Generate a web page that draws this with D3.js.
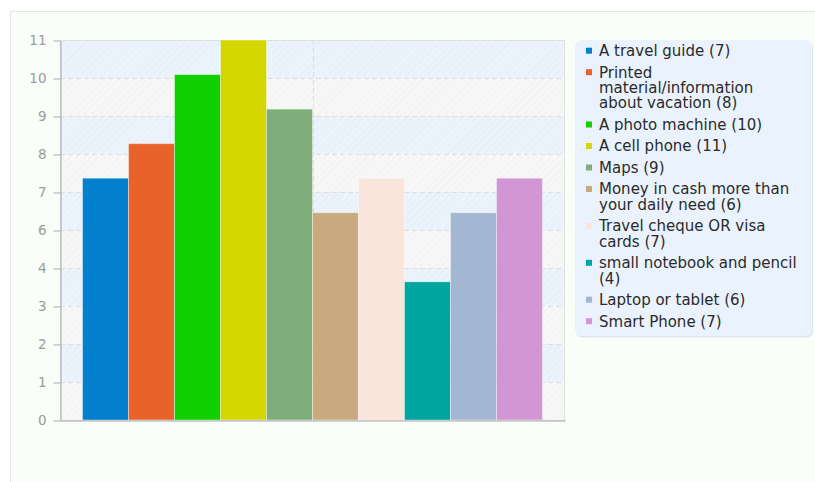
<!DOCTYPE html>
<html>
<head>
<meta charset="utf-8">
<script src="https://cdn.jsdelivr.net/npm/d3@7"></script>
<style>
  body { margin: 0; background: #ffffff; }
  svg { display: block; font-family: "DejaVu Sans", sans-serif; }
</style>
</head>
<body>
<svg id="chart" width="815" height="482"></svg>
<script>
// Survey answers: what people take with them on vacation
const categories = [
  "A travel guide",
  "Printed material/information about vacation",
  "A photo machine",
  "A cell phone",
  "Maps",
  "Money in cash more than your daily need",
  "Travel cheque OR visa cards",
  "small notebook and pencil",
  "Laptop or tablet",
  "Smart Phone"
];
const counts = [7, 8, 10, 11, 9, 6, 7, 4, 6, 7];
const colors = [
  "#0280cd", "#e8622b", "#11cf00", "#d3d600", "#80ae7a",
  "#c9aa7f", "#fae5dc", "#01a59f", "#a3b7d2", "#d396d4"
];
// y axis: ten equal steps up to the maximum, labels rounded
const yTickValues = [0, 1.1, 2.2, 3.3, 4.4, 5.5, 6.6, 7.7, 8.8, 9.9, 11];
const yTickLabels = ["0", "1", "2", "3", "4", "6", "7", "8", "9", "10", "11"];

const svg = d3.select("#chart");
const plot = { left: 60, right: 565, top: 40, bottom: 420 };

// outer panel
svg.append("rect")
  .attr("x", 10.5).attr("y", 11.5)
  .attr("width", 815).attr("height", 480)
  .attr("fill", "#f9fef9")
  .attr("stroke", "#e6e9e6");

const y = d3.scaleLinear().domain([0, d3.max(yTickValues)]).range([plot.bottom, plot.top]);
const x = d3.scaleBand().domain(categories)
  .range([plot.left, plot.right])
  .paddingInner(0).paddingOuter(0.49);

// hatch pattern for the plot background
const defs = svg.append("defs");
const pat = defs.append("pattern")
  .attr("id", "hatch").attr("patternUnits", "userSpaceOnUse")
  .attr("width", 5).attr("height", 5)
  .attr("patternTransform", "rotate(45)");
pat.append("line")
  .attr("x1", 0).attr("y1", 0).attr("x2", 0).attr("y2", 5)
  .attr("stroke", "rgba(0,0,0,0.022)").attr("stroke-width", 2);

// alternating horizontal bands between ticks
const bands = d3.pairs(yTickValues);
svg.append("g").selectAll("rect").data(bands).join("rect")
  .attr("x", plot.left).attr("width", plot.right - plot.left)
  .attr("y", d => y(d[1])).attr("height", d => y(d[0]) - y(d[1]))
  .attr("fill", (d, i) => i % 2 ? "#ebf3fc" : "#f7f7f7");
svg.append("rect")
  .attr("x", plot.left).attr("y", plot.top)
  .attr("width", plot.right - plot.left).attr("height", plot.bottom - plot.top)
  .attr("fill", "url(#hatch)");

// dashed grid lines
const grid = svg.append("g")
  .attr("stroke", "#dedede").attr("stroke-dasharray", "5,3");
grid.selectAll("line.h").data(yTickValues.slice(1, -1)).join("line")
  .attr("class", "h")
  .attr("x1", plot.left).attr("x2", plot.right)
  .attr("y1", d => Math.round(y(d)) + 0.5).attr("y2", d => Math.round(y(d)) + 0.5);
const xMid = (x.range()[0] + x.range()[1]) / 2;
grid.append("line")
  .attr("x1", Math.round(xMid) + 0.5).attr("x2", Math.round(xMid) + 0.5)
  .attr("y1", plot.top).attr("y2", plot.bottom);

// plot frame
svg.append("rect")
  .attr("x", plot.left + 0.5).attr("y", plot.top + 0.5)
  .attr("width", plot.right - plot.left - 1).attr("height", plot.bottom - plot.top)
  .attr("fill", "none").attr("stroke", "#e0e0e0");

// bars
svg.append("g").selectAll("rect").data(categories).join("rect")
  .attr("x", d => x(d))
  .attr("width", x.bandwidth())
  .attr("y", (d, i) => y(counts[i]))
  .attr("height", (d, i) => y(0) - y(counts[i]))
  .attr("fill", (d, i) => colors[i])
  .attr("stroke", "rgba(255,255,255,0.4)")
  .attr("stroke-width", 1);

// axes
const yAxis = svg.append("g")
  .attr("transform", `translate(${plot.left + 0.5},0.5)`)
  .call(d3.axisLeft(y).tickValues(yTickValues)
    .tickFormat((d, i) => yTickLabels[i])
    .tickSize(7).tickSizeOuter(0).tickPadding(7));
yAxis.select(".domain").attr("stroke", "#a9a9a9");
yAxis.selectAll(".tick line").attr("stroke", "#a9a9a9");
yAxis.selectAll(".tick text")
  .attr("fill", "#9b9b9b").attr("font-size", 13.5)
  .attr("font-family", "DejaVu Sans, sans-serif");

const xAxis = svg.append("g")
  .attr("transform", `translate(0,${plot.bottom + 0.5})`)
  .call(d3.axisBottom(x).tickSize(0).tickSizeOuter(0).tickFormat(""));
xAxis.select(".domain").attr("stroke", "#a9a9a9");

// legend
const legend = svg.append("g");
const lg = { x: 575, y: 40, w: 237, h: 296 };
legend.append("rect")
  .attr("x", lg.x + 1).attr("y", lg.y + 1.5)
  .attr("width", lg.w).attr("height", lg.h)
  .attr("rx", 6).attr("fill", "#dfe5ec");
legend.append("rect")
  .attr("x", lg.x).attr("y", lg.y)
  .attr("width", lg.w).attr("height", lg.h)
  .attr("rx", 6).attr("fill", "#eaf3fd");

const lineH = 15.4, gap = 6.1, maxW = 200.5;
let cy = 50.7;
categories.forEach((name, i) => {
  const label = `${name} (${counts[i]})`;
  const text = legend.append("text")
    .attr("font-size", 15).attr("fill", "#2a2a2a")
    .attr("font-family", "DejaVu Sans, sans-serif");
  // word wrapping within the legend width
  const words = label.split(" ");
  const lines = [];
  let cur = [];
  const probe = text.append("tspan");
  words.forEach(w => {
    const trial = cur.concat([w]).join(" ");
    probe.text(trial);
    if (cur.length && probe.node().getComputedTextLength() > maxW) {
      lines.push(cur.join(" "));
      cur = [w];
    } else {
      cur.push(w);
    }
  });
  lines.push(cur.join(" "));
  probe.remove();
  lines.forEach((ln, j) => {
    text.append("tspan")
      .attr("x", 599).attr("y", cy + j * lineH + 5.3)
      .text(ln);
  });
  legend.append("rect")
    .attr("x", 586).attr("y", cy - 3)
    .attr("width", 6).attr("height", 6)
    .attr("fill", colors[i]);
  cy += lines.length * lineH + gap;
});
</script>
</body>
</html>
